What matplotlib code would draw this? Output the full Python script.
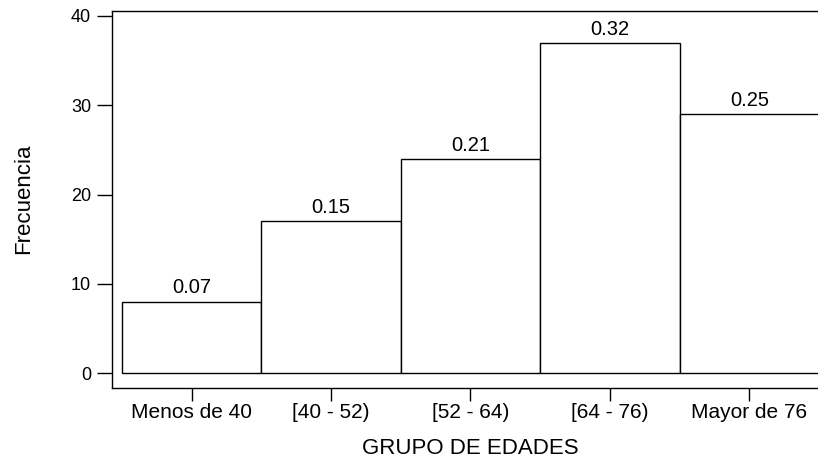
import matplotlib
matplotlib.use("Agg")
import matplotlib.pyplot as plt

plt.rcParams['font.family'] = ['Liberation Sans', 'DejaVu Sans']

grupos = ['Menos de 40', '[40 - 52)', '[52 - 64)', '[64 - 76)', 'Mayor de 76']
frecuencia = [8, 17, 24, 37, 29]
proporcion = ['0.07', '0.15', '0.21', '0.32', '0.25']
y_ticks = [0, 10, 20, 30, 40]

fig = plt.figure(figsize=(8.18, 4.59), dpi=100)
# the right side of the original frame is cut off, so the axes run past the figure edge
ax = fig.add_axes([112 / 818, 71 / 459, 717 / 818, 377 / 459])

x = list(range(len(grupos)))
bars = ax.bar(x, frecuencia, width=1.0, color='white', edgecolor='black', linewidth=1.0)

for b, lab in zip(bars, proporcion):
    ax.annotate(lab, (b.get_x() + b.get_width() / 2, b.get_height()),
                xytext=(0, 3), textcoords='offset points',
                ha='center', va='bottom', fontsize=14.5)

ax.set_xlim(-0.572, 4.572)
ax.set_ylim(-1.68, 40.56)
ax.set_xticks(x)
ax.set_xticklabels(grupos, fontsize=15)
ax.set_yticks(y_ticks)
ax.set_yticklabels([str(v) for v in y_ticks], fontsize=13)

ax.tick_params(axis='x', direction='out', length=9, width=1, pad=2)
ax.tick_params(axis='y', direction='out', length=11, width=1, pad=4)
for s in ax.spines.values():
    s.set_linewidth(1.0)
    s.set_color('black')

ax.set_xlabel('GRUPO DE EDADES', fontsize=16, labelpad=11)
fig.text(23.5 / 818, 1 - 199 / 459, 'Frecuencia', rotation=90, fontsize=16,
         ha='center', va='center')

fig.savefig('out.png', dpi=100)
